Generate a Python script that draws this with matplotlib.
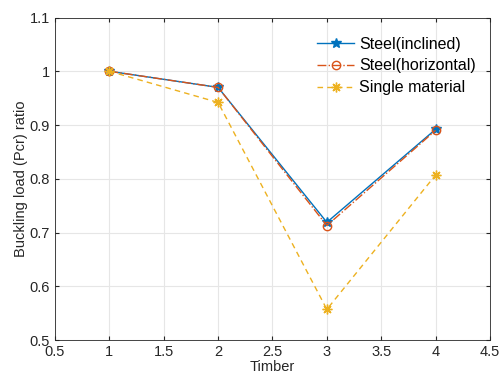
import matplotlib
matplotlib.use("Agg")
import matplotlib.pyplot as plt

plt.rcParams['font.family'] = ['Liberation Sans', 'DejaVu Sans']

# data
timber = [1, 2, 3, 4]
steel_inclined = [1.0, 0.970, 0.719, 0.892]
steel_horizontal = [1.0, 0.970, 0.713, 0.890]
single_material = [1.0, 0.942, 0.557, 0.807]

fig = plt.figure(figsize=(5.03, 3.75), dpi=100)
ax = fig.add_axes([0.1093, 0.0933, 0.8648, 0.8600])

ax.plot(timber, steel_inclined, color='#0072BD', lw=1.0, marker='*', ms=7,
        label='Steel(inclined)')
ax.plot(timber, steel_horizontal, color='#D95319', lw=1.0, ls='-.', marker='o',
        ms=6, mfc='none', label='Steel(horizontal)')
ax.plot(timber, single_material, color='#EDB120', lw=1.0, ls='--', marker=(8, 2, 0),
        ms=7, mew=1.0, label='Single material', dashes=(4, 3))

ax.set_xlim(0.5, 4.5)
ax.set_ylim(0.5, 1.1)
ax.set_xticks([0.5, 1, 1.5, 2, 2.5, 3, 3.5, 4, 4.5])
ax.set_xticklabels(['0.5', '1', '1.5', '2', '2.5', '3', '3.5', '4', '4.5'])
ax.set_yticks([0.5, 0.6, 0.7, 0.8, 0.9, 1.0, 1.1])
ax.set_yticklabels(['0.5', '0.6', '0.7', '0.8', '0.9', '1', '1.1'])
ax.grid(True, color='#e6e6e6', lw=0.8)
ax.set_axisbelow(True)
ax.tick_params(direction='in', length=3, labelsize=10.5, colors='#262626',
               top=True, right=True, labeltop=False, labelright=False)
for s in ax.spines.values():
    s.set_color('#262626')
    s.set_linewidth(0.6)

ax.set_xlabel('Timber', fontsize=10.5, color='#262626', labelpad=0.5)
ax.set_ylabel('Buckling load (Pcr) ratio', fontsize=10.5, color='#262626', labelpad=1)

ax.legend(loc='upper right', frameon=False, fontsize=11.5, handlelength=2.3,
          handletextpad=0.3, labelspacing=0.42, borderaxespad=0.5,
          bbox_to_anchor=(1.0, 0.985))

fig.savefig('out.png', dpi=100)
